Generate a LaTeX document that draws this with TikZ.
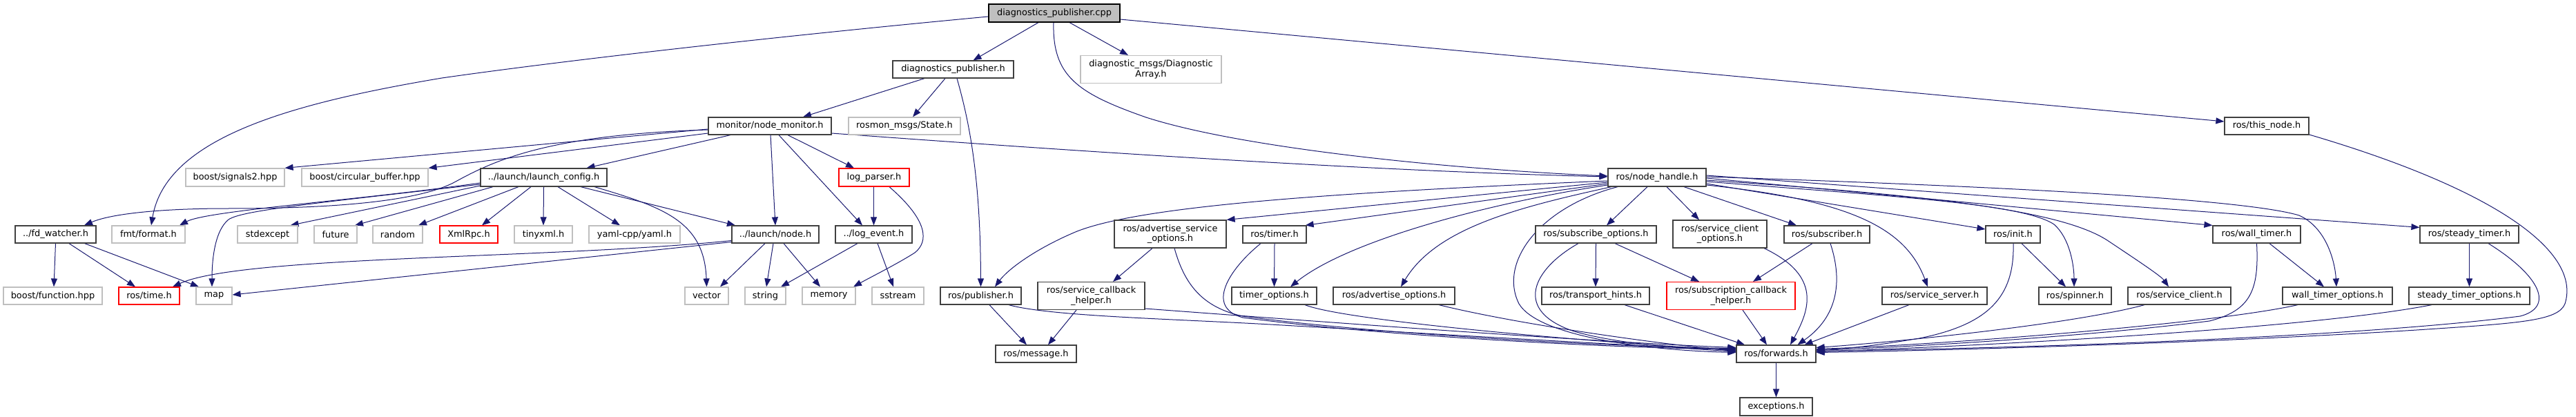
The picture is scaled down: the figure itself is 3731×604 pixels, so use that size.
\documentclass[tikz,border=0pt]{standalone}
\usepackage{fontspec}
\setmainfont{DejaVu Sans}
\usetikzlibrary{arrows.meta}
\definecolor{edgec}{HTML}{191970}
\definecolor{bblack}{HTML}{404040}
\definecolor{bgray}{HTML}{BFBFBF}
\definecolor{bred}{HTML}{FF0000}
\pgfdeclarelayer{bg}
\pgfsetlayers{bg,main}
\begin{document}
\begin{tikzpicture}[x=1pt,y=-1pt,
 base/.style={rectangle, inner sep=0pt, line width=1.2pt, font=\fontsize{12.9}{14.7}\selectfont, align=center, text=black, fill=white},
 nb/.style={base, draw=bblack},
 ng/.style={base, draw=bgray},
 nr/.style={base, draw=bred},
 nroot/.style={base, draw=black, fill=bgray},
 e/.style={draw=edgec, line width=1pt, -{Triangle[length=12pt,width=9pt]}}]
\useasboundingbox (0,0) rectangle (3731,604);
% row 0
\node[nroot, minimum width=190pt, minimum height=26pt] (cpp) at (1527,19) {diagnostics\_publisher.cpp};
% row 1
\node[nb, minimum width=175pt, minimum height=25pt] (dph) at (1380.5,100.5) {diagnostics\_publisher.h};
\node[ng, minimum width=204pt, minimum height=40pt] (diagA) at (1667,100.5) {diagnostic\_msgs/Diagnostic\\Array.h};
% row 2
\node[nb, minimum width=178pt, minimum height=25pt] (nm) at (1115,182.5) {monitor/node\_monitor.h};
\node[ng, minimum width=162pt, minimum height=25pt] (rosmon) at (1310,182.5) {rosmon\_msgs/State.h};
\node[nb, minimum width=122pt, minimum height=25pt] (thisn) at (3283,182.5) {ros/this\_node.h};
% row 3
\node[ng, minimum width=143pt, minimum height=26pt] (sig) at (340.5,257) {boost/signals2.hpp};
\node[ng, minimum width=183pt, minimum height=26pt] (circ) at (528.5,257) {boost/circular\_buffer.hpp};
\node[nb, minimum width=183pt, minimum height=26pt] (lc) at (787.5,257) {../launch/launch\_config.h};
\node[nr, minimum width=102pt, minimum height=26pt] (logp) at (1266,257) {log\_parser.h};
\node[nb, minimum width=142pt, minimum height=26pt] (nh) at (2400,257) {ros/node\_handle.h};
% row 4
\node[nb, minimum width=117pt, minimum height=25pt] (fdw) at (80.5,339.5) {../fd\_watcher.h};
\node[ng, minimum width=106pt, minimum height=25pt] (fmt) at (215,339.5) {fmt/format.h};
\node[ng, minimum width=87pt, minimum height=25pt] (stdx) at (387.5,339.5) {stdexcept};
\node[ng, minimum width=62pt, minimum height=25pt] (fut) at (486,339.5) {future};
\node[ng, minimum width=72pt, minimum height=25pt] (rnd) at (576,339.5) {random};
\node[nr, minimum width=84pt, minimum height=25pt] (xml) at (679,339.5) {XmlRpc.h};
\node[ng, minimum width=84pt, minimum height=25pt] (tiny) at (787,339.5) {tinyxml.h};
\node[ng, minimum width=132pt, minimum height=25pt] (yaml) at (919,339.5) {yaml-cpp/yaml.h};
\node[nb, minimum width=126pt, minimum height=25pt] (lnode) at (1123,339.5) {../launch/node.h};
\node[nb, minimum width=111pt, minimum height=25pt] (logev) at (1265.5,339.5) {../log\_event.h};
\node[nb, minimum width=162pt, minimum height=40pt] (aso) at (1695,339) {ros/advertise\_service\\\_options.h};
\node[nb, minimum width=92pt, minimum height=25pt] (timer) at (1846,339.5) {ros/timer.h};
\node[nb, minimum width=175pt, minimum height=25pt] (subo) at (2311.5,339.5) {ros/subscribe\_options.h};
\node[nb, minimum width=136pt, minimum height=40pt] (sco) at (2491,339) {ros/service\_client\\\_options.h};
\node[nb, minimum width=124pt, minimum height=25pt] (subr) at (2646,339.5) {ros/subscriber.h};
\node[nb, minimum width=79pt, minimum height=25pt] (init) at (2915.5,339.5) {ros/init.h};
\node[nb, minimum width=127pt, minimum height=25pt] (wt) at (3268.5,339.5) {ros/wall\_timer.h};
\node[nb, minimum width=143pt, minimum height=25pt] (st) at (3576.5,339.5) {ros/steady\_timer.h};
% row 5
\node[ng, minimum width=143pt, minimum height=25pt] (fun) at (76.5,428.5) {boost/function.hpp};
\node[nr, minimum width=88pt, minimum height=25pt] (time) at (216,428.5) {ros/time.h};
\node[ng, minimum width=52pt, minimum height=25pt] (map) at (310,428.5) {map};
\node[ng, minimum width=63pt, minimum height=25pt] (vec) at (1023.5,428.5) {vector};
\node[ng, minimum width=59pt, minimum height=25pt] (str) at (1108.5,428.5) {string};
\node[ng, minimum width=77pt, minimum height=25pt] (mem) at (1200.5,428.5) {memory};
\node[ng, minimum width=75pt, minimum height=25pt] (sst) at (1300.5,428.5) {sstream};
\node[nb, minimum width=117pt, minimum height=25pt] (pub) at (1420.5,428.5) {ros/publisher.h};
\node[nb, minimum width=155pt, minimum height=40pt] (sch) at (1580.5,428.5) {ros/service\_callback\\\_helper.h};
\node[nb, minimum width=123pt, minimum height=25pt] (topt) at (1845.5,428.5) {timer\_options.h};
\node[nb, minimum width=176pt, minimum height=25pt] (advo) at (2019,428.5) {ros/advertise\_options.h};
\node[nb, minimum width=156pt, minimum height=25pt] (th) at (2311,428.5) {ros/transport\_hints.h};
\node[nr, minimum width=186pt, minimum height=40pt] (subch) at (2507,428.5) {ros/subscription\_callback\\\_helper.h};
\node[nb, minimum width=152pt, minimum height=25pt] (ss) at (2802,428.5) {ros/service\_server.h};
\node[nb, minimum width=105pt, minimum height=25pt] (spin) at (3005.5,428.5) {ros/spinner.h};
\node[nb, minimum width=149pt, minimum height=25pt] (sc) at (3156.5,428.5) {ros/service\_client.h};
\node[nb, minimum width=159pt, minimum height=25pt] (wto) at (3385.5,428.5) {wall\_timer\_options.h};
\node[nb, minimum width=175pt, minimum height=25pt] (sto) at (3576.5,428.5) {steady\_timer\_options.h};
% row 6, 7
\node[nb, minimum width=117pt, minimum height=25pt] (msg) at (1500.5,512.5) {ros/message.h};
\node[nb, minimum width=115pt, minimum height=25pt] (fwd) at (2572.5,512.5) {ros/forwards.h};
\node[nb, minimum width=105pt, minimum height=26pt] (exc) at (2572.5,589) {exceptions.h};

\begin{pgfonlayer}{bg}
% from cpp
\draw[e] ([xshift=-23pt]cpp.south) -- ([xshift=29pt]dph.north);
\draw[e] ([xshift=22pt]cpp.south) -- ([xshift=-33pt]diagA.north);
\draw[e] ([xshift=-1pt]cpp.south) .. controls (1524,110) and (1560,135) .. (1660,170) .. controls (1800,215) and (2100,245) .. ([yshift=2pt]nh.west);
\draw[e] ([yshift=-9pt]cpp.east) -- ([yshift=6.5pt]thisn.west);
\draw[e] ([yshift=-5pt]cpp.west) .. controls (1100,55) and (800,90) .. (640,113) .. controls (420,150) and (240,200) .. ([xshift=4pt]fmt.north);
% from dph
\draw[e] ([xshift=-41.5pt]dph.south) -- ([xshift=48pt]nm.north);
\draw[e] ([xshift=-11.5pt]dph.south) -- ([xshift=12pt]rosmon.north);
\draw[e] ([xshift=5.5pt]dph.south) .. controls (1405,180) and (1420,260) .. (pub.north);
% from nm
\draw[e] ([yshift=-4.5pt]nm.west) -- (sig.north east);
\draw[e] ([yshift=-10.5pt]nm.west) -- (circ.north east);
\draw[e] ([xshift=-57pt]nm.south) -- ([xshift=62pt]lc.north);
\draw[e] ([xshift=26pt]nm.south) -- ([xshift=-29pt]logp.north);
\draw[e] ([yshift=-10.5pt]nm.east) .. controls (1600,222) and (2000,248) .. ([yshift=1pt]nh.west);
\draw[e] ([xshift=1pt]nm.south) -- (lnode.north);
\draw[e] ([xshift=13pt]nm.south) -- ([xshift=-16.5pt]logev.north);
\draw[e] ([yshift=-5.5pt]nm.west) .. controls (800,195) and (720,230) .. (660,263) .. controls (600,296) and (450,302) .. (330,302) .. controls (230,302) and (160,310) .. ([xshift=41.5pt]fdw.north);
% from lc
\draw[e] ([yshift=-8pt]lc.west) .. controls (520,290) and (300,305) .. ([xshift=45pt]fmt.north);
\draw[e] ([yshift=-10pt]lc.west) .. controls (450,295) and (350,305) .. (331,318) .. controls (310,335) and (307,380) .. ([xshift=-3pt]map.north);
\draw[e] ([yshift=-12pt]lc.west) -- ([xshift=33pt]stdx.north);
\draw[e] ([xshift=-73.5pt]lc.south) -- ([xshift=28pt]fut.north);
\draw[e] ([xshift=-36.5pt]lc.south) -- ([xshift=30pt]rnd.north);
\draw[e] ([xshift=-18.5pt]lc.south) -- ([xshift=19pt]xml.north);
\draw[e] (lc.south) -- (tiny.north);
\draw[e] ([xshift=20.5pt]lc.south) -- ([xshift=-21pt]yaml.north);
\draw[e] ([xshift=53.5pt]lc.south) -- ([xshift=-58pt]lnode.north);
\draw[e] ([xshift=73.5pt]lc.south) .. controls (960,300) and (1020,320) .. (vec.north);
% from lnode
\draw[e] ([xshift=-15pt]lnode.south) -- ([xshift=19.5pt]vec.north);
\draw[e] ([xshift=-3pt]lnode.south) -- ([xshift=1.5pt]str.north);
\draw[e] ([xshift=12pt]lnode.south) -- ([xshift=-12.5pt]mem.north);
\draw[e] ([yshift=-9pt]lnode.west) .. controls (800,375) and (350,370) .. ([xshift=34pt]time.north);
\draw[e] ([yshift=-11pt]lnode.west) -- ([yshift=1.5pt]map.east);
% from fdw
\draw[e] (fdw.south) -- ([xshift=1.5pt]fun.north);
\draw[e] ([xshift=19.5pt]fdw.south) -- ([xshift=-20pt]time.north);
\draw[e] ([xshift=42pt]fdw.south) -- ([xshift=-22pt]map.north);
% from logp, logev
\draw[e] ([xshift=-0.5pt]logp.south) -- (logev.north);
\draw[e] ([xshift=22pt]logp.south) .. controls (1345,320) and (1345,350) .. (1325,366) .. controls (1300,382) and (1260,402) .. ([xshift=35.5pt]mem.north);
\draw[e] ([xshift=-23.5pt]logev.south) -- ([xshift=22.5pt]str.north);
\draw[e] ([xshift=5.5pt]logev.south) -- ([xshift=-6.5pt]sst.north);
% pub, sch, aso, timer
\draw[e] ([xshift=12.5pt]pub.south) -- ([xshift=-13.5pt]msg.north);
\draw[e] ([xshift=40.5pt]pub.south) .. controls (1520,458) and (1700,462) .. (1840,470) .. controls (2100,485) and (2400,503) .. ([yshift=6pt]fwd.west);
\draw[e] ([xshift=-21.5pt]sch.south) -- ([xshift=17.5pt]msg.north);
\draw[e] ([yshift=-18.5pt]sch.east) .. controls (1900,465) and (2300,495) .. ([yshift=9pt]fwd.west);
\draw[e] ([xshift=-26pt]aso.south) -- ([xshift=31.5pt]sch.north);
\draw[e] ([xshift=6pt]aso.south) .. controls (1715,410) and (1740,445) .. (1800,458) .. controls (2000,485) and (2350,503) .. ([yshift=8pt]fwd.west);
\draw[e] (timer.south) -- (topt.north);
\draw[e] ([xshift=-20pt]timer.south) .. controls (1780,390) and (1745,445) .. (1800,460) .. controls (2000,487) and (2350,505) .. ([yshift=7pt]fwd.west);
\draw[e] ([xshift=44.5pt]topt.south) .. controls (1950,465) and (2300,495) .. ([yshift=5pt]fwd.west);
\draw[e] ([xshift=65pt]advo.south) .. controls (2200,470) and (2400,498) .. ([yshift=4pt]fwd.west);
% subo
\draw[e] (subo.south) -- (th.north);
\draw[e] ([xshift=27.5pt]subo.south) -- ([xshift=-46pt]subch.north);
\draw[e] ([xshift=-25.5pt]subo.south) .. controls (2220,390) and (2190,450) .. (2280,480) .. controls (2350,500) and (2450,505) .. ([yshift=3pt]fwd.west);
% from nh
\draw[e] ([xshift=-57pt]nh.south) .. controls (2230,300) and (2170,380) .. (2200,440) .. controls (2230,490) and (2400,508) .. ([yshift=2pt]fwd.west);
\draw[e] ([yshift=-5pt]nh.west) .. controls (1900,280) and (1650,300) .. (1560,335) .. controls (1500,360) and (1460,390) .. ([xshift=20.5pt]pub.north);
\draw[e] ([yshift=-7pt]nh.west) -- (aso.north east);
\draw[e] ([yshift=-9pt]nh.west) -- ([xshift=-2pt]timer.north east);
\draw[e] ([yshift=-11pt]nh.west) .. controls (2150,295) and (1950,350) .. ([xshift=23.5pt]topt.north);
\draw[e] ([xshift=-66pt]nh.south) .. controls (2200,300) and (2080,330) .. ([xshift=10pt]advo.north);
\draw[e] ([xshift=-14pt]nh.south) -- ([xshift=15.5pt]subo.north);
\draw[e] ([xshift=14pt]nh.south) -- ([xshift=-30pt]sco.north);
\draw[e] ([xshift=39pt]nh.south) -- ([xshift=-44pt]subr.north);
\draw[e] ([yshift=-11pt]nh.east) .. controls (2680,290) and (2760,330) .. ([xshift=-10pt]ss.north);
\draw[e] ([yshift=-9pt]nh.east) -- ([yshift=7.5pt]init.west);
\draw[e] ([yshift=-6pt]nh.east) .. controls (2750,285) and (2930,295) .. (2975,325) .. controls (2998,345) and (3004,385) .. ([xshift=-1.5pt]spin.north);
\draw[e] ([yshift=-4pt]nh.east) .. controls (2800,283) and (2990,305) .. (3055,350) .. controls (3100,380) and (3130,400) .. ([xshift=-15.5pt]sc.north);
\draw[e] ([yshift=-1pt]nh.east) -- (wt.north west);
\draw[e] ([yshift=1pt]nh.east) .. controls (2900,270) and (3250,288) .. (3330,312) .. controls (3370,330) and (3382,380) .. ([xshift=-1.5pt]wto.north);
\draw[e] ([yshift=3pt]nh.east) -- ([yshift=-3pt]st.north west);
% row 4 right part
\draw[e] ([xshift=64pt]sco.south) .. controls (2640,400) and (2620,450) .. ([xshift=20.5pt]fwd.north);
\draw[e] ([xshift=-21pt]subr.south) -- ([xshift=32pt]subch.north);
\draw[e] ([xshift=5pt]subr.south) .. controls (2670,410) and (2660,460) .. ([xshift=31pt]fwd.north);
\draw[e] ([xshift=17pt]subch.south) -- ([xshift=-13.5pt]fwd.north);
\draw[e] ([xshift=42pt]th.south) -- ([xshift=-45.5pt]fwd.north);
\draw[e] ([xshift=-37pt]ss.south) -- ([xshift=41pt]fwd.north);
\draw[e] ([xshift=0.5pt]init.south) .. controls (2918,430) and (2880,470) .. (2780,490) .. controls (2720,500) and (2680,505) .. ([yshift=6pt]fwd.east);
\draw[e] ([xshift=12.5pt]init.south) -- ([xshift=-13.5pt]spin.north);
\draw[e] ([xshift=-50.5pt]sc.south) .. controls (3000,470) and (2750,495) .. ([yshift=9pt]fwd.east);
\draw[e] ([xshift=18.5pt]wt.south) -- ([xshift=-19.5pt]wto.north);
\draw[e] (wt.south) .. controls (3272,420) and (3260,450) .. (3200,465) .. controls (3000,490) and (2750,503) .. ([yshift=5pt]fwd.east);
\draw[e] ([xshift=-57.5pt]wto.south) .. controls (3200,470) and (2800,500) .. ([yshift=7pt]fwd.east);
\draw[e] (st.south) -- (sto.north);
\draw[e] ([xshift=27.5pt]st.south) .. controls (3680,400) and (3700,445) .. (3650,458) .. controls (3400,490) and (2900,505) .. ([yshift=4pt]fwd.east);
\draw[e] ([xshift=-54.5pt]sto.south) .. controls (3350,475) and (2900,500) .. ([yshift=3pt]fwd.east);
\draw[e] ([yshift=-12.5pt]thisn.east) .. controls (3600,270) and (3740,360) .. (3715,440) .. controls (3705,465) and (3650,468) .. (3500,478) .. controls (3200,497) and (2800,508) .. ([yshift=2pt]fwd.east);
\draw[e] (fwd.south) -- (exc.north);
\end{pgfonlayer}
\end{tikzpicture}
\end{document}
